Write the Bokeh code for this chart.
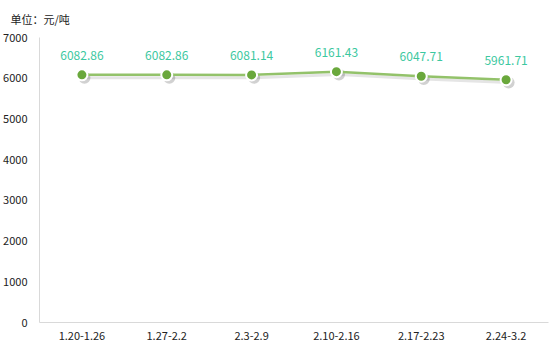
from bokeh.plotting import figure
from bokeh.models import ColumnDataSource, Range1d, FactorRange, LabelSet, FixedTicker
from bokeh.transform import dodge
from bokeh.core.properties import value
from bokeh.embed import file_html
from bokeh.resources import INLINE

weeks = ["1.20-1.26", "1.27-2.2", "2.3-2.9", "2.10-2.16", "2.17-2.23", "2.24-3.2"]
prices = [6082.86, 6082.86, 6081.14, 6161.43, 6047.71, 5961.71]
y_ticks = [0, 1000, 2000, 3000, 4000, 5000, 6000, 7000]
unit_text = "单位：元/吨"

labels = ["%.2f" % v for v in prices]
shadow = [v - 70 for v in prices]
src = ColumnDataSource(dict(x=weeks, y=prices, lab=labels, ys=shadow))

p = figure(width=553, height=356, x_range=FactorRange(*weeks), y_range=Range1d(0, 7000),
           output_backend="svg", toolbar_location=None, title=unit_text,
           min_border_left=38, min_border_right=5, min_border_top=37, min_border_bottom=34)
p.outline_line_color = None
p.xgrid.visible = False
p.ygrid.visible = False

font = "Noto Sans CJK SC"
p.title.text_font = font
p.title.text_font_size = "11px"
p.title.text_font_style = "normal"
p.title.text_color = "#222222"
p.title.align = "left"
p.title.offset = -29
p.title.standoff = 18
p.title.vertical_align = "top"

p.yaxis.ticker = FixedTicker(ticks=y_ticks)
for ax in (p.xaxis, p.yaxis):
    ax.axis_line_color = "#d9d9d9"
    ax.axis_line_width = 1
    ax.major_tick_line_color = None
    ax.minor_tick_line_color = None
    ax.major_label_text_font = font
    ax.major_label_text_font_size = "11px"
    ax.major_label_text_color = "#222222"
p.yaxis.major_label_standoff = 6
p.xaxis.major_label_standoff = 3

# shadow
p.line(x=dodge("x", 0.03, range=p.x_range), y="ys", source=src, line_color="#000000",
       line_alpha=0.10, line_width=3)
p.scatter(x=dodge("x", 0.03, range=p.x_range), y="ys", source=src, size=12,
          fill_color="#000000", fill_alpha=0.18, line_color=None)

p.line(x="x", y="y", source=src, line_color="#93c26a", line_width=2.5)
p.scatter(x="x", y="y", source=src, size=11, fill_color="#6aa83c", line_color="white",
          line_width=2)

ls = LabelSet(x="x", y="y", text="lab", source=src, y_offset=15, text_align="center",
              text_font=value(font), text_font_size=value("12px"), text_color="#3cc8a0")
p.add_layout(ls)

open("out.html", "w").write(file_html(p, INLINE))
